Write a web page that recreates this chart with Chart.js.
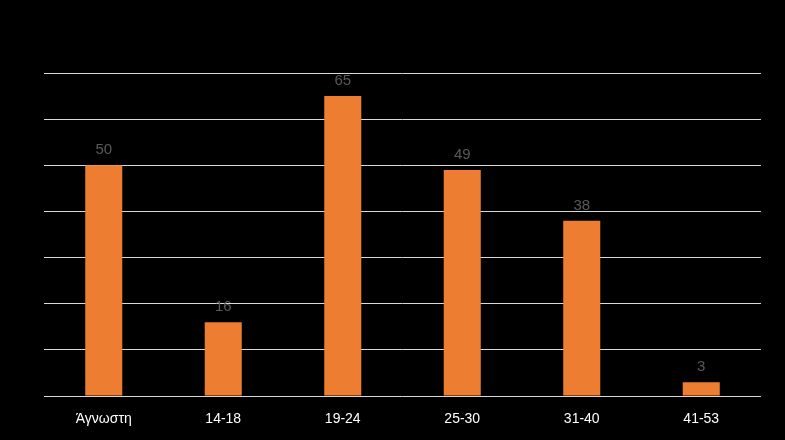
<!DOCTYPE html>
<html><head><meta charset="utf-8">
<script src="https://cdn.jsdelivr.net/npm/chart.js@4"></script>
<style>html,body{margin:0;padding:0;background:#000;}#wrap{width:785px;height:440px;position:relative;}</style>
</head><body><div id="wrap"><canvas id="c"></canvas></div>
<script>
const categories = ["\u0386\u03b3\u03bd\u03c9\u03c3\u03c4\u03b7", "14-18", "19-24", "25-30", "31-40", "41-53"];
const values = [50, 16, 65, 49, 38, 3];
const yMax = 70;
const yStep = 10;

const labelPlugin = {
  id: 'valLabels',
  afterDatasetsDraw(chart) {
    const ctx = chart.ctx;
    const meta = chart.getDatasetMeta(0);
    ctx.save();
    ctx.fillStyle = '#595959';
    ctx.font = '15px "Liberation Sans", Arial, sans-serif';
    ctx.textAlign = 'center';
    ctx.textBaseline = 'alphabetic';
    meta.data.forEach((bar, i) => {
      ctx.fillText(String(values[i]), bar.x, bar.y - 11);
    });
    ctx.restore();
  }
};

new Chart(document.getElementById('c'), {
  type: 'bar',
  data: {
    labels: categories,
    datasets: [{
      data: values,
      backgroundColor: '#ED7D31',
      borderWidth: 0,
      categoryPercentage: 1.0,
      barPercentage: 0.31
    }]
  },
  options: {
    responsive: true,
    maintainAspectRatio: false,
    animation: false,
    layout: { padding: { top: 73, left: 44, right: 24, bottom: 0 } },
    plugins: { legend: { display: false }, tooltip: { enabled: false } },
    scales: {
      x: {
        grid: { display: false, drawTicks: false },
        border: { display: false },
        ticks: { color: '#ffffff', font: { family: '"Liberation Sans", Arial, sans-serif', size: 14 }, padding: 15, maxRotation: 0 },
        afterFit(s) { s.height = 44; }
      },
      y: {
        min: 0, max: yMax,
        ticks: { display: false, stepSize: yStep },
        grid: { color: '#d9d9d9', lineWidth: 1, drawTicks: false },
        border: { display: false },
        afterFit(s) { s.width = 0; }
      }
    }
  },
  plugins: [labelPlugin]
});
</script>
</body></html>
